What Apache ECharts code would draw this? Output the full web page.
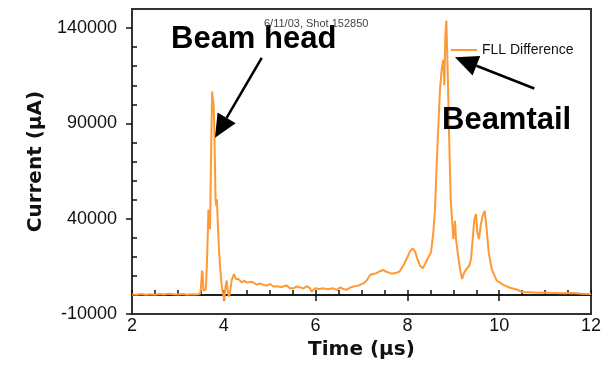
<!DOCTYPE html>
<html><head><meta charset="utf-8">
<script src="https://cdn.jsdelivr.net/npm/echarts@6/dist/echarts.min.js"></script>
<style>html,body{margin:0;padding:0;background:#fff}#c{width:614px;height:365px}</style>
</head><body><div id="c"></div>
<script>
// ---- data ----
const timeUs = [2.00,2.10,2.20,2.30,2.40,2.50,2.60,2.70,2.80,2.90,3.00,3.10,3.20,3.30,3.40,3.48,
  3.50,3.525,3.54,3.555,3.57,3.60,3.615,3.64,3.665,3.685,3.70,3.725,3.745,3.765,3.78,3.795,3.808,3.82,3.835,3.85,3.866,3.888,3.917,3.954,3.99,
  4.01,4.04,4.062,4.084,4.113,4.135,4.171,4.222,4.266,4.317,4.389,4.45,4.50,4.607,4.716,4.80,4.861,4.95,
  5.006,5.08,5.152,5.25,5.37,5.44,5.515,5.59,5.66,5.73,5.805,5.87,5.914,5.987,
  6.08,6.168,6.27,6.386,6.46,6.532,6.60,6.677,6.75,6.822,6.90,6.967,
  7.05,7.113,7.185,7.25,7.33,7.40,7.476,7.53,7.585,7.66,7.73,7.824,7.911,7.999,
  8.057,8.115,8.166,8.217,8.275,8.333,8.383,8.456,8.514,8.565,8.601,8.637,8.674,8.71,8.746,8.783,8.805,8.826,8.848,8.87,8.892,8.914,8.943,8.972,
  9.001,9.037,9.059,9.095,9.146,9.19,9.24,9.291,9.349,9.386,9.422,9.458,9.495,9.524,9.56,9.596,9.64,9.684,9.727,9.771,9.836,9.945,
  10.09,10.235,10.381,10.526,10.671,10.85,11.0,11.2,11.4,11.6,11.8,12.0];
const currentUA = [300,100,500,200,400,200,500,300,700,400,300,500,200,400,300,500,
  3000,12800,11000,2500,1500,2500,6000,22300,44900,42000,34500,76000,106700,106000,99000,85000,67700,50000,46700,50200,39700,27500,15400,5000,-300,
  -2900,4900,7600,2300,-800,1400,7600,11000,8400,8400,6700,7500,6500,7000,5500,6000,5300,5000,
  5800,4500,4600,4200,5000,3500,3500,4500,4000,3400,4600,3800,1800,3500,
  3200,3500,3000,3500,2600,4000,3200,2800,3900,4500,4800,5300,
  6200,7600,10500,11000,11500,12500,13100,12300,11900,11200,11500,12200,15400,19800,
  22900,24500,22900,18900,15400,14000,16200,19800,22400,32900,44900,67700,88500,107700,118200,123400,110000,135600,144000,125200,102500,78100,50200,39700,
  29300,38900,29300,22400,13700,8400,11900,13700,15400,18900,29300,39700,42400,32900,29300,36300,41500,44200,34500,22400,13700,7600,
  5300,3800,2900,1400,1400,1200,1300,1000,900,1100,700,600];
const seriesName = 'FLL Difference';
const xTickLabels = [2,4,6,8,10,12];
const xMajorTicks = [4,6,8,10];
const yTickLabels = [-10000,40000,90000,140000];
const yMinorTicks = [0,10000,20000,30000,50000,60000,70000,80000,100000,110000,120000,130000];
const headArrow = [[4.826,124350],[3.808,82510]];
const tailArrow = [[10.765,108300],[9.037,124660]];
const noteTexts = ['Beam head','Beamtail','6/11/03, Shot 152850'];

// ---- chart ----
const chart = echarts.init(document.getElementById('c'), null, {renderer:'canvas'});
const seriesData = timeUs.map((t,i)=>[t,currentUA[i]]);
const F = 'Liberation Sans, Arial, sans-serif';
const tickStyle = {color:'#111', width:1.5};
chart.setOption({
  animation:false,
  grid:{left:132,top:9,right:23,bottom:50,show:true,borderColor:'#333',borderWidth:2,backgroundColor:'transparent'},
  legend:{data:[seriesName],left:451,top:43,padding:0,icon:'rect',itemWidth:26,itemHeight:2,
    textStyle:{fontFamily:F,fontSize:14,color:'#111'}},
  xAxis:[
    {type:'value',min:2,max:12,interval:2,position:'bottom',
     axisLine:{show:false,onZero:false},axisTick:{show:false},splitLine:{show:false},
     axisLabel:{margin:3,fontFamily:F,fontSize:18,color:'#111',formatter:v=>xTickLabels.includes(v)?String(v):''},
     name:'Time (µs)',nameLocation:'middle',nameGap:23,
     nameTextStyle:{fontFamily:'DejaVu Sans',fontWeight:'bold',fontSize:20,color:'#111'}},
    {type:'value',min:2,max:12,interval:0.5,position:'bottom',
     axisLine:{show:true,onZero:true,onZeroAxisIndex:0,lineStyle:tickStyle},
     axisTick:{show:true,inside:true,length:5,lineStyle:tickStyle},axisLabel:{show:false},splitLine:{show:false}},
    {type:'value',min:2,max:12,interval:2,position:'bottom',
     axisLine:{show:true,onZero:true,onZeroAxisIndex:1,lineStyle:tickStyle},
     axisTick:{show:true,inside:false,length:6,customValues:xMajorTicks,lineStyle:tickStyle},axisLabel:{show:false},splitLine:{show:false}}
  ],
  yAxis:[
    {type:'value',min:-10000,max:150000,interval:10000,position:'left',
     axisLine:{show:false,onZero:false},
     axisTick:{show:true,inside:true,length:5,customValues:yMinorTicks,lineStyle:tickStyle},
     axisLabel:{margin:15,fontFamily:F,fontSize:18,color:'#111',formatter:v=>yTickLabels.includes(v)?String(v):''},
     splitLine:{show:false},
     name:'Current (µA)',nameLocation:'middle',nameGap:84,
     nameTextStyle:{fontFamily:'DejaVu Sans',fontWeight:'bold',fontSize:20,color:'#111'}},
    {type:'value',min:-10000,max:150000,interval:50000,position:'left',
     axisLine:{show:false,onZero:false},
     axisTick:{show:true,inside:false,length:6,customValues:yTickLabels,lineStyle:tickStyle},
     axisLabel:{show:false},splitLine:{show:false}}
  ],
  series:[{name:seriesName,type:'line',data:seriesData,xAxisIndex:0,yAxisIndex:0,
    showSymbol:false,symbol:'none',lineStyle:{color:'#ff9933',width:2},itemStyle:{color:'#ff9933'},z:3}]
});

function arrow(a){
  const p0 = chart.convertToPixel({xAxisIndex:0,yAxisIndex:0}, a[0]);
  const p1 = chart.convertToPixel({xAxisIndex:0,yAxisIndex:0}, a[1]);
  const dx = p1[0]-p0[0], dy = p1[1]-p0[1], L = Math.hypot(dx,dy);
  const ux = dx/L, uy = dy/L, hl = 23, hw = 10.5;
  const bx = p1[0]-ux*hl, by = p1[1]-uy*hl;
  return [
    {type:'line',shape:{x1:p0[0],y1:p0[1],x2:bx,y2:by},style:{stroke:'#000',lineWidth:2.5},z:10},
    {type:'polygon',shape:{points:[[p1[0],p1[1]],[bx-uy*hw,by+ux*hw],[bx+uy*hw,by-ux*hw]]},style:{fill:'#000'},z:10}
  ];
}
chart.setOption({graphic:[
  ...arrow(headArrow), ...arrow(tailArrow),
  {type:'text',x:171,y:39,z:11,style:{text:noteTexts[0],fontFamily:F,fontWeight:'bold',fontSize:31,fill:'#000',align:'left',verticalAlign:'middle'}},
  {type:'text',x:442,y:120,z:11,style:{text:noteTexts[1],fontFamily:F,fontWeight:'bold',fontSize:31,fill:'#000',align:'left',verticalAlign:'middle'}},
  {type:'text',x:264,y:24,z:12,style:{text:noteTexts[2],fontFamily:F,fontSize:11,fill:'#444',align:'left',verticalAlign:'middle'}}
]});
</script></body></html>
